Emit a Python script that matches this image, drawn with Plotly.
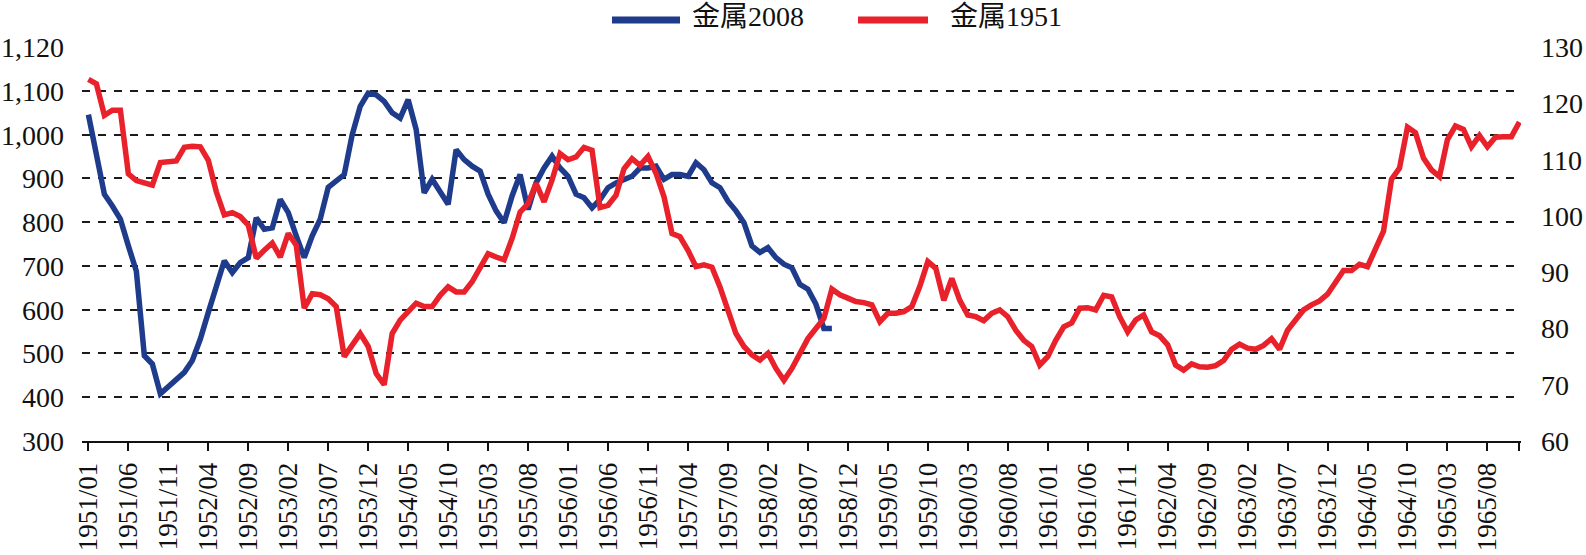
import plotly.graph_objects as go

# ---- categories: monthly, 1951/01 .. 1965/12 ----
months = [f"{y}/{m:02d}" for y in range(1951, 1966) for m in range(1, 13)]

# ---- 金属2008 (left axis) ----
metal_2008 = [
    1046, 955, 864, 837, 807, 746, 688, 495, 476, 408,
    423, 438, 457, 484, 533, 594, 655, 712, 685, 708,
    719, 810, 784, 787, 852, 822, 769, 719, 769, 807,
    880, 894, 909, 1000, 1065, 1095, 1091, 1076, 1050, 1038,
    1080, 1012, 867, 898, 867, 841, 966, 943, 928, 917,
    864, 826, 799, 860, 909, 829, 890, 924, 951, 924,
    905, 864, 856, 833, 852, 879, 890, 898, 905, 924,
    924, 928, 898, 909, 909, 905, 936, 920, 890, 879,
    848, 826, 799, 746, 731, 742, 719, 704, 696, 658,
    647, 613, 557, 557,
]

# ---- 金属1951 (right axis) ----
metal_1951 = [
    124.3, 123.5, 117.9, 118.8, 118.8, 107.5, 106.3, 105.8, 105.5, 109.5,
    109.6, 109.8, 112.2, 112.4, 112.3, 109.9, 104.3, 100.2, 100.6, 99.9,
    98.4, 92.5, 93.9, 95.2, 92.7, 96.9, 94.8, 83.6, 86.2, 86.0,
    85.3, 83.9, 75.0, 77.1, 79.1, 76.8, 72.0, 70.0, 79.1, 81.5,
    83.0, 84.5, 83.9, 83.9, 85.9, 87.4, 86.5, 86.5, 88.3, 91.0,
    93.3, 92.7, 92.2, 96.0, 100.7, 102.2, 105.8, 102.5, 106.4, 111.1,
    110.0, 110.5, 112.2, 111.7, 101.5, 101.9, 103.7, 108.4, 110.2, 109.0,
    110.6, 107.6, 103.4, 96.9, 96.3, 93.9, 91.0, 91.3, 90.9, 87.4,
    83.6, 79.1, 76.8, 75.3, 74.4, 75.6, 72.9, 70.8, 72.9, 75.6,
    78.2, 80.0, 81.8, 87.0, 86.0, 85.4, 84.8, 84.6, 84.2, 81.2,
    82.7, 82.7, 83.0, 83.9, 87.5, 91.9, 90.7, 85.0, 88.9, 85.0,
    82.4, 82.1, 81.4, 82.7, 83.3, 82.1, 79.7, 77.9, 76.8, 73.5,
    75.0, 77.9, 80.3, 81.0, 83.6, 83.7, 83.3, 85.9, 85.6, 82.1,
    79.4, 81.5, 82.4, 79.4, 78.7, 77.1, 73.5, 72.6, 73.7, 73.2,
    73.1, 73.4, 74.3, 76.3, 77.2, 76.5, 76.3, 77.0, 78.2, 76.3,
    79.7, 81.5, 83.3, 84.2, 84.9, 86.1, 88.0, 90.3, 90.3, 91.4,
    91.0, 94.2, 97.3, 106.5, 108.5, 115.8, 114.8, 110.3, 108.2, 107.0,
    113.6, 116.0, 115.4, 112.3, 114.3, 112.3, 114.0, 114.1, 114.1, 116.7,
]

# ---- tick labels ----
left_tickvals = [300, 400, 500, 600, 700, 800, 900, 1000, 1100, 1200]
left_ticktext = ["300", "400", "500", "600", "700", "800", "900", "1,000", "1,100", "1,120"]
right_tickvals = [60, 70, 80, 90, 100, 110, 120, 130]
x_tickvals = months[::5] + [months[-1]]
x_ticktext = months[::5] + [""]

series_names = ["金属2008", "金属1951"]
BLUE = "#1f3b8c"
RED = "#e8212b"

FONT = "Liberation Serif, Times New Roman, Noto Sans CJK SC, serif"
FS = 28

W, H = 1586, 555
ML, MR, MT, MB = 82, 65, 47, 114
PW, PH = W - ML - MR, H - MT - MB

fig = go.Figure()
fig.add_trace(go.Scatter(
    x=months[:len(metal_2008)], y=metal_2008, name=series_names[0],
    mode="lines", line=dict(color=BLUE, width=5.5), yaxis="y",
))
fig.add_trace(go.Scatter(
    x=months, y=metal_1951, name=series_names[1],
    mode="lines", line=dict(color=RED, width=5.5), yaxis="y2",
))

# manual legend (long line samples like the reference)
def px_x(p):
    return (p - ML) / PW

def px_y(p):
    return (H - MB - p) / PH

legend_items = [
    (612, 680, 690, BLUE, series_names[0]),
    (858, 928, 948, RED, series_names[1]),
]
shapes = []
annotations = []
for x0, x1, xt, col, name in legend_items:
    shapes.append(dict(type="line", xref="paper", yref="paper",
                       x0=px_x(x0), x1=px_x(x1), y0=px_y(20), y1=px_y(20),
                       line=dict(color=col, width=7)))
    annotations.append(dict(xref="paper", yref="paper", x=px_x(xt), y=px_y(16),
                            xanchor="left", yanchor="middle", showarrow=False,
                            text=name, font=dict(family=FONT, size=FS, color="#111")))

fig.update_layout(
    width=W, height=H,
    margin=dict(l=ML, r=MR, t=MT, b=MB, pad=0),
    paper_bgcolor="white", plot_bgcolor="white",
    showlegend=False,
    font=dict(family=FONT, size=FS, color="#111"),
    shapes=shapes, annotations=annotations,
    xaxis=dict(
        type="category", range=[-0.8, 179.2], automargin=False,
        tickmode="array", tickvals=x_tickvals, ticktext=x_ticktext,
        tickangle=-90, ticks="outside", ticklen=8, tickwidth=2, tickcolor="#111",
        showline=True, linecolor="#111", linewidth=2,
        showgrid=False, zeroline=False,
        tickfont=dict(family=FONT, size=27, color="#111"),
        ticklabelstandoff=1,
    ),
    yaxis=dict(
        range=[300, 1200.5], automargin=False, tickmode="array",
        tickvals=left_tickvals, ticktext=left_ticktext,
        ticks="", showline=False, zeroline=False,
        showgrid=True, gridcolor="#1a1a1a", gridwidth=2, griddash="8px,8px",
        tickfont=dict(family=FONT, size=FS, color="#111"),
        ticklabelstandoff=17,
    ),
    yaxis2=dict(
        range=[60, 130.04], automargin=False, overlaying="y", side="right",
        tickmode="array", tickvals=right_tickvals,
        ticks="", showline=False, zeroline=False, showgrid=False,
        tickfont=dict(family=FONT, size=FS, color="#111"),
        ticklabelstandoff=19,
    ),
)

fig.write_html("out.html")
